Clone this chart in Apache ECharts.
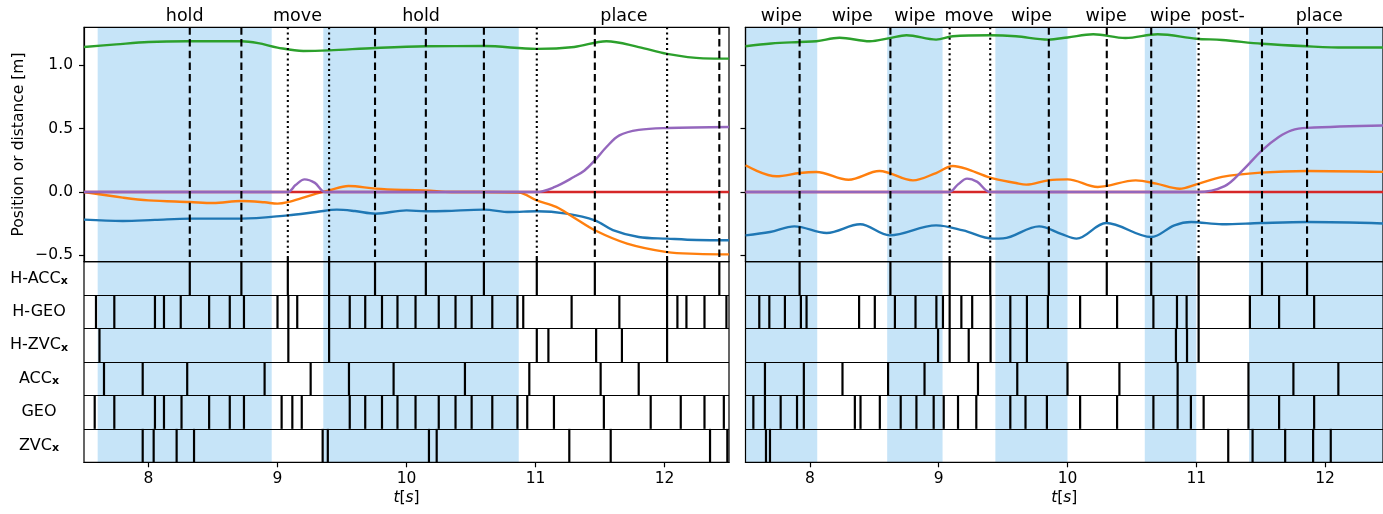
<!DOCTYPE html>
<html lang="en">
<head>
    <meta charset="UTF-8">
    <title>Segmentation comparison</title>
    <script src="https://cdn.jsdelivr.net/npm/echarts@6/dist/echarts.min.js"></script>
    <style>
        body { margin: 0; background: #fff; }
        #chart { width: 1383px; height: 514px; }
    </style>
</head>
<body>
    <div id="chart"></div>

    <script>
        const FONT = 'DejaVu Sans';
        const SHADE = '#c6e4f8';
        const COLORS = ['#1f77b4', '#ff7f0e', '#2ca02c', '#d62728', '#9467bd'];

        const xMin = 7.5, xMax = 12.5;
        const xTicks = [8, 9, 10, 11, 12];
        const yTicks = [-0.5, 0, 0.5, 1.0];
        const rowNames = ['H-ACC', 'H-GEO', 'H-ZVC', 'ACC', 'GEO', 'ZVC'];
        const rowSubs = ['x', '', 'x', 'x', '', 'x'];

        // ---- left panel ----
        const leftPhaseEdges = [7.5, 7.606, 8.955, 9.355, 10.87, 12.5];
        const leftPhaseNames = ['', 'hold', 'move', 'hold', 'place'];
        const leftPhaseShaded = [0, 1, 0, 1, 0];
        const leftDashed = [8.32, 8.72, 9.756, 10.15, 10.60, 11.46, 12.425];
        const leftDotted = [9.08, 9.40, 11.01, 12.02];

        const leftBlue = [[7.5, -0.218], [7.8, -0.229], [8.05, -0.22], [8.32, -0.21], [8.72, -0.21], [9.08, -0.184], [9.3, -0.158],
            [9.46, -0.139], [9.6, -0.15], [9.76, -0.171], [10.0, -0.145], [10.15, -0.152], [10.3, -0.15], [10.6, -0.139],
            [10.8, -0.158], [11.01, -0.152], [11.24, -0.171], [11.46, -0.223], [11.6, -0.3], [11.8, -0.355], [12.02, -0.368],
            [12.25, -0.379], [12.5, -0.381]];
        const leftOrange = [[7.5, 0], [7.8, -0.044], [8.0, -0.066], [8.32, -0.079], [8.5, -0.087], [8.72, -0.071], [8.9, -0.081],
            [9.0, -0.092], [9.08, -0.08], [9.2, -0.045], [9.3, -0.013], [9.4, 0.013], [9.55, 0.047], [9.76, 0.027], [10.0, 0.016],
            [10.15, 0.013], [10.35, 0.0], [10.6, 0.0], [10.87, -0.005], [11.01, -0.066], [11.16, -0.118], [11.29, -0.197],
            [11.46, -0.302], [11.71, -0.407], [12.02, -0.474], [12.25, -0.488], [12.5, -0.492]];
        const leftGreen = [[7.5, 1.144], [7.75, 1.165], [8.0, 1.184], [8.3, 1.19], [8.72, 1.19], [8.85, 1.175], [9.0, 1.14],
            [9.2, 1.113], [9.4, 1.118], [9.76, 1.137], [10.15, 1.15], [10.6, 1.152], [11.01, 1.13], [11.3, 1.145], [11.55, 1.19],
            [11.8, 1.144], [12.02, 1.09], [12.3, 1.055], [12.5, 1.053]];
        const leftRed = [[7.5, 0], [12.5, 0]];
        const leftPurple = [[7.5, 0], [9.08, 0], [9.14, 0.055], [9.21, 0.1], [9.29, 0.072], [9.37, 0], [11.01, 0], [11.15, 0.04],
            [11.3, 0.12], [11.38, 0.17], [11.46, 0.25], [11.55, 0.355], [11.65, 0.447], [11.8, 0.49], [12.02, 0.505], [12.5, 0.513]];

        const leftHAcc = [8.32, 8.72, 9.08, 9.40, 9.756, 10.15, 10.60, 11.01, 11.46, 12.02, 12.425];
        const leftHGeo = [7.593, 7.735, 8.05, 8.12, 8.25, 8.47, 8.63, 8.74, 9.0, 9.084, 9.153, 9.40, 9.56, 9.68, 9.81, 9.93, 10.07,
            10.25, 10.38, 10.505, 10.665, 10.86, 10.905, 11.28, 11.65, 12.02, 12.10, 12.17, 12.31, 12.48];
        const leftHZvc = [7.62, 9.084, 9.40, 11.01, 11.10, 11.47, 11.67, 12.02];
        const leftAcc = [7.655, 7.955, 8.30, 8.90, 9.257, 9.554, 9.90, 10.453, 10.952, 11.505, 11.80];
        const leftGeo = [7.583, 7.735, 8.05, 8.12, 8.256, 8.47, 8.63, 8.74, 9.032, 9.115, 9.188, 9.56, 9.68, 9.81, 9.93, 10.07,
            10.25, 10.38, 10.505, 10.665, 10.86, 10.936, 11.143, 11.53, 11.893, 12.126, 12.31, 12.46];
        const leftZvc = [7.955, 8.04, 8.218, 8.353, 9.35, 9.39, 10.174, 10.234, 11.262, 11.583, 12.353, 12.487];

        // ---- right panel ----
        const rightPhaseEdges = [7.5, 8.057, 8.6, 9.03, 9.44, 10.0, 10.6, 11.0, 11.41, 12.5];
        const rightPhaseNames = ['wipe', 'wipe', 'wipe', 'move', 'wipe', 'wipe', 'wipe', 'post-', 'place'];
        const rightPhaseShaded = [1, 0, 1, 0, 1, 0, 1, 0, 1];
        const rightDashed = [7.92, 8.625, 9.855, 10.305, 10.65, 11.51, 11.86];
        const rightDotted = [9.085, 9.40, 11.018];

        const rightBlue = [[7.5, -0.342], [7.69, -0.316], [7.88, -0.271], [8.13, -0.323], [8.39, -0.255], [8.62, -0.342],
            [8.98, -0.263], [9.19, -0.303], [9.42, -0.368], [9.5, -0.366], [9.78, -0.271], [9.95, -0.33], [10.07, -0.368],
            [10.3, -0.245], [10.65, -0.355], [10.83, -0.263], [10.96, -0.237], [11.2, -0.255], [11.5, -0.245], [11.86, -0.237],
            [12.5, -0.25]];
        const rightOrange = [[7.5, 0.211], [7.74, 0.124], [7.92, 0.15], [8.05, 0.158], [8.3, 0.097], [8.54, 0.166], [8.8, 0.092],
            [8.98, 0.15], [9.11, 0.205], [9.21, 0.184], [9.4, 0.113], [9.6, 0.071], [9.68, 0.058], [9.85, 0.092], [10.0, 0.1],
            [10.235, 0.04], [10.53, 0.092], [10.69, 0.066], [10.87, 0.026], [11.0, 0.06], [11.2, 0.12], [11.5, 0.153],
            [11.86, 0.166], [12.5, 0.158]];
        const rightGreen = [[7.5, 1.15], [7.7, 1.172], [7.92, 1.184], [8.05, 1.19], [8.23, 1.218], [8.465, 1.19], [8.62, 1.215],
            [8.75, 1.237], [8.98, 1.203], [9.11, 1.229], [9.4, 1.237], [9.6, 1.229], [9.85, 1.203], [10.0, 1.22], [10.2, 1.245],
            [10.45, 1.215], [10.7, 1.245], [11.0, 1.21], [11.2, 1.2], [11.51, 1.17], [11.86, 1.15], [12.15, 1.14], [12.5, 1.14]];
        const rightRed = [[7.5, 0], [12.5, 0]];
        const rightPurple = [[7.5, 0], [9.08, 0], [9.15, 0.06], [9.22, 0.106], [9.3, 0.08], [9.4, 0], [11.01, 0], [11.22, 0.047],
            [11.36, 0.171], [11.51, 0.329], [11.64, 0.434], [11.74, 0.487], [11.86, 0.506], [12.5, 0.526]];

        const rightHAcc = [7.92, 8.625, 9.085, 9.40, 9.855, 10.305, 10.65, 11.018, 11.51, 11.86];
        const rightHGeo = [7.607, 7.685, 7.806, 7.93, 7.974, 8.382, 8.504, 8.66, 8.82, 8.982, 9.033, 9.085, 9.176, 9.26, 9.403,
            9.556, 9.685, 9.848, 10.098, 10.385, 10.667, 10.85, 10.925, 11.018, 11.416, 11.643, 11.915];
        const rightHZvc = [8.995, 9.085, 9.233, 9.403, 9.556, 9.685, 10.842, 10.928, 11.018];
        const rightAcc = [7.651, 7.953, 8.253, 8.607, 8.89, 9.305, 9.61, 10.0, 10.403, 10.855, 11.405, 11.754, 12.103];
        const rightGeo = [7.561, 7.651, 7.773, 7.90, 7.953, 8.349, 8.393, 8.543, 8.705, 8.827, 8.961, 9.039, 9.15, 9.292, 9.556,
            9.674, 9.84, 10.098, 10.385, 10.667, 10.855, 10.958, 11.057, 11.405, 11.643, 11.915];
        const rightZvc = [7.659, 7.69, 11.248, 11.437, 11.69, 11.907, 12.044];

        // layout: both panels use 129 px per second; the right panel runs past the window edge
        const CHART_W = 1383, PX_PER_S = 129;
        const TOP = 27.3, TOP_H = 234.4, STRIP_H = 200.6;

        const panels = [
            {
                left: 84, edges: leftPhaseEdges, names: leftPhaseNames, shaded: leftPhaseShaded,
                dashed: leftDashed, dotted: leftDotted,
                lines: [leftBlue, leftOrange, leftGreen, leftRed, leftPurple],
                events: [leftHAcc, leftHGeo, leftHZvc, leftAcc, leftGeo, leftZvc]
            },
            {
                left: 745.5, edges: rightPhaseEdges, names: rightPhaseNames, shaded: rightPhaseShaded,
                dashed: rightDashed, dotted: rightDotted,
                lines: [rightBlue, rightOrange, rightGreen, rightRed, rightPurple],
                events: [rightHAcc, rightHGeo, rightHZvc, rightAcc, rightGeo, rightZvc]
            }
        ];
        panels.forEach(pn => {
            pn.width = Math.min((xMax - xMin) * PX_PER_S, CHART_W + 1 - pn.left);
            pn.xMax = xMin + pn.width / PX_PER_S;
        });

        function shadeRender(params, api) {
            const cs = params.coordSys;
            const x0 = api.coord([api.value(0), 0])[0];
            const x1 = api.coord([api.value(2), 0])[0];
            return { type: 'rect', shape: { x: x0, y: cs.y, width: x1 - x0, height: cs.height }, style: { fill: SHADE } };
        }

        function markerRender(params, api) {
            const cs = params.coordSys;
            const x = api.coord([api.value(0), 0])[0];
            const dotted = api.value(1) === 1;
            return {
                type: 'line',
                shape: { x1: x, y1: cs.y, x2: x, y2: cs.y + cs.height },
                style: { stroke: '#000', lineWidth: 2.1, lineDash: dotted ? [2, 3.2] : [7.5, 4.2] }
            };
        }

        function eventRender(params, api) {
            const p = api.coord([api.value(0), api.value(1)]);
            const h = api.size([0, 1])[1];
            // events that match a dotted boundary poke a little into the plot above
            const up = api.value(2) === 1 ? 4 : 0;
            return {
                type: 'line',
                shape: { x1: p[0], y1: p[1] - h / 2 - up, x2: p[0], y2: p[1] + h / 2 },
                style: { stroke: '#000', lineWidth: 2.2 }
            };
        }

        const grids = [], xAxes = [], yAxes = [], series = [];

        panels.forEach((pn, p) => {
            const gTop = 2 * p, gStrip = 2 * p + 1;
            grids.push({ left: pn.left, top: TOP, width: pn.width, height: TOP_H, show: true, borderColor: '#000', borderWidth: 1.2, backgroundColor: 'transparent' });
            grids.push({ left: pn.left, top: TOP + TOP_H, width: pn.width, height: STRIP_H, show: true, borderColor: '#000', borderWidth: 1.2, backgroundColor: 'transparent' });

            xAxes.push({
                type: 'value', gridIndex: gTop, min: xMin, max: pn.xMax,
                axisLine: { show: false }, axisTick: { show: false }, axisLabel: { show: false }, splitLine: { show: false }
            });
            xAxes.push({
                type: 'value', gridIndex: gStrip, min: xMin, max: pn.xMax,
                axisLine: { show: true, onZero: false, lineStyle: { color: '#000', width: 1.2 } },
                axisTick: { show: true, customValues: xTicks, length: 5, lineStyle: { color: '#000', width: 1.2 } },
                axisLabel: { customValues: xTicks, fontSize: 15.5, fontFamily: FONT, color: '#000', margin: 9 },
                splitLine: { show: false },
                name: '{i|t}[{i|s}]', nameLocation: 'middle', nameGap: 28,
                nameTextStyle: { fontSize: 15.5, fontFamily: FONT, color: '#000', rich: { i: { fontStyle: 'italic', fontSize: 15.5, fontFamily: FONT } } }
            });

            yAxes.push({
                type: 'value', gridIndex: gTop, min: -0.55, max: 1.30,
                axisLine: { show: true, onZero: false, lineStyle: { color: '#000', width: 1.2 } },
                axisTick: { show: true, customValues: yTicks, length: 5, lineStyle: { color: '#000', width: 1.2 } },
                axisLabel: {
                    show: p === 0, customValues: yTicks, fontSize: 15.5, fontFamily: FONT, color: '#000', margin: 11,
                    formatter: v => v.toFixed(1).replace('-', '\u2212')
                },
                splitLine: { show: false },
                name: p === 0 ? 'Position or distance [m]' : '', nameLocation: 'middle', nameGap: 57, nameRotate: 90,
                nameTextStyle: { fontSize: 15.5, fontFamily: FONT, color: '#000' }
            });
            yAxes.push({
                type: 'category', gridIndex: gStrip, data: rowNames, inverse: true,
                axisLine: { show: false }, axisTick: { show: false },
                splitLine: { show: true, interval: 0, lineStyle: { color: '#000', width: 1.2 } },
                axisLabel: {
                    show: p === 0, interval: 0, align: 'center', margin: 45,
                    formatter: (v, i) => '{m|' + v + '}' + (rowSubs[i] ? '{s|' + rowSubs[i] + '}' : ''),
                    rich: {
                        m: { fontSize: 16, fontFamily: FONT, color: '#000', lineHeight: 16, verticalAlign: 'top' },
                        s: { fontSize: 11, fontFamily: FONT, fontWeight: 'bold', color: '#000', lineHeight: 11, verticalAlign: 'bottom', padding: [7, 0, 0, 0] }
                    }
                }
            });

            const shadeData = [];
            const labelData = [];
            for (let i = 0; i < pn.names.length; i++) {
                if (pn.shaded[i]) shadeData.push([pn.edges[i], 0, pn.edges[i + 1]]);
                if (pn.names[i]) labelData.push([(pn.edges[i] + pn.edges[i + 1]) / 2, 0, i]);
            }

            // background phases
            series.push({ type: 'custom', xAxisIndex: gTop, yAxisIndex: gTop, z: -1, renderItem: shadeRender, encode: { x: 0, y: 1 }, data: shadeData, silent: true });
            series.push({ type: 'custom', xAxisIndex: gStrip, yAxisIndex: gStrip, z: -1, renderItem: shadeRender, encode: { x: 0, y: 1 }, data: shadeData, silent: true });

            // phase names above the plot
            series.push({
                type: 'custom', xAxisIndex: gTop, yAxisIndex: gTop, clip: false, encode: { x: 0, y: 1 }, data: labelData, silent: true,
                renderItem: (params, api) => ({
                    type: 'text',
                    x: api.coord([api.value(0), 0])[0],
                    y: params.coordSys.y - 2,
                    style: { text: pn.names[api.value(2)], fontSize: 17.5, fontFamily: FONT, fill: '#000', align: 'center', verticalAlign: 'bottom' }
                })
            });

            pn.lines.forEach((d, k) => {
                series.push({
                    type: 'line', xAxisIndex: gTop, yAxisIndex: gTop, data: d, smooth: 0.35, symbol: 'none', z: 3,
                    lineStyle: { color: COLORS[k], width: 2.4 }, itemStyle: { color: COLORS[k] }
                });
            });

            const markerData = pn.dashed.map(t => [t, 0]).concat(pn.dotted.map(t => [t, 1]));
            series.push({ type: 'custom', xAxisIndex: gTop, yAxisIndex: gTop, z: 4, renderItem: markerRender, encode: { x: 0, y: 1 }, data: markerData, silent: true });

            const eventData = [];
            pn.events.forEach((row, r) => row.forEach(t => {
                eventData.push([t, r, r === 0 && pn.dotted.includes(t) ? 1 : 0]);
            }));
            series.push({ type: 'custom', xAxisIndex: gStrip, yAxisIndex: gStrip, z: 4, clip: false, renderItem: eventRender, encode: { x: 0, y: 1 }, data: eventData, silent: true });
        });

        const chart = echarts.init(document.getElementById('chart'));
        chart.setOption({
            animation: false,
            backgroundColor: '#fff',
            grid: grids,
            xAxis: xAxes,
            yAxis: yAxes,
            series: series
        });
    </script>
</body>
</html>
